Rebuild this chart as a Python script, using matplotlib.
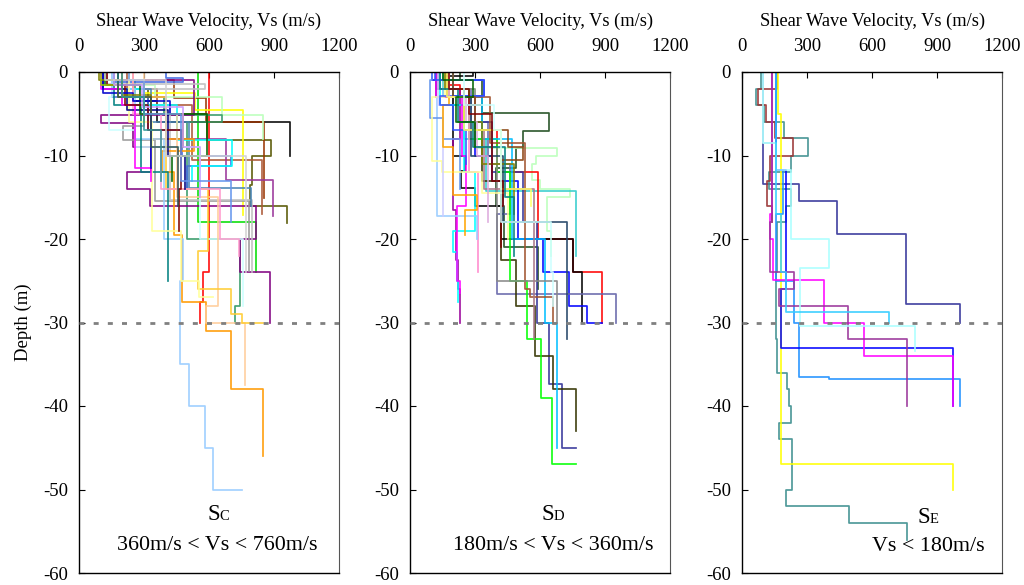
import matplotlib
matplotlib.use("Agg")
import matplotlib.pyplot as plt

plt.rcParams['font.family'] = ['Liberation Serif', 'DejaVu Serif']
plt.rcParams['axes.unicode_minus'] = False

# Site class C profiles: layer velocity (m/s) and layer bottom depth (m)
sc_colors = ['#ff0000', '#00dd00', '#000000', '#555500', '#993300', '#aa5533',
             '#ffff00', '#bbffbb', '#339966', '#800080', '#993399', '#999999',
             '#c0c0c0', '#4169e1', '#4682b4', '#00ffff', '#ccffff', '#ff9900',
             '#99ccff', '#ffcc99', '#ffcc33', '#008080', '#ffff99', '#ff99cc',
             '#000080', '#006400', '#ff00ff', '#800000', '#0000cd', '#808000',
             '#99cc00', '#cc99ff', '#2f4f4f', '#6495ed', '#d3d3d3', '#339999']
sc_vs = [
    [600, 570, 560],
    [549, 817],
    [150, 250, 361, 972],
    [180, 320, 592, 887, 800, 790, 961],
    [150, 440, 585, 854],
    [220, 360, 520, 845],
    [120, 300, 535, 758],
    [200, 350, 661, 850],
    [130, 260, 392, 661, 500, 744, 721],
    [150, 531, 100, 250, 330, 220, 328, 815, 743, 881],
    [200, 400, 680, 897],
    [180, 300, 205, 351, 785],
    [130, 581, 200, 420, 800],
    [400, 481, 150, 320, 477, 703, 500],
    [200, 330, 508, 795],
    [180, 300, 450, 707, 520],
    [150, 138, 260, 560, 757],
    [200, 330, 530, 385, 440, 474, 586, 701, 850],
    [150, 260, 390, 480, 466, 506, 581, 620, 751],
    [300, 450, 640, 586, 766],
    [250, 400, 596, 548, 701, 751, 850],
    [160, 285, 410, 412],
    [230, 338, 470, 555, 620],
    [250, 380, 650, 740],
    [110, 220, 410, 490],
    [120, 280, 589, 430],
    [100, 200, 258, 330],
    [130, 210, 320, 470, 460],
    [110, 250, 420, 330],
    [90, 200, 330, 480],
    [100, 180, 300],
    [160, 290, 480, 560],
    [180, 330, 455],
    [230, 300, 470, 700],
    [120, 400, 770],
    [200, 300, 380],
]
sc_depth = [
    [24, 27.5, 30],
    [18, 24],
    [1.5, 3.5, 6, 10],
    [2, 5, 8.1, 10, 13.5, 16.1, 18.1],
    [1, 3.1, 6, 15.1],
    [2, 4, 10.5, 17],
    [1, 2.5, 4.6, 17.1],
    [1.5, 3, 5.1, 8],
    [1, 3, 5.1, 6, 20, 28, 30],
    [1, 5.1, 6.1, 9, 12, 14, 16.1, 20, 24, 30],
    [3, 8, 12.9, 17.2],
    [2, 6.5, 8.1, 15.5, 23.8],
    [1.4, 2, 4, 15.3, 24],
    [0.7, 1.2, 3, 7, 10, 11.3, 14],
    [2, 6, 13.9, 16.1],
    [2, 4, 8.2, 11.3, 13],
    [3, 7, 9, 20, 28],
    [3, 8, 9.5, 12, 19.5, 27.5, 31, 38, 46],
    [2, 8, 20, 25, 35, 40, 45, 50, 50],
    [5, 15, 28, 30, 37.5],
    [3, 14, 21.4, 26, 29, 30, 30],
    [4, 12, 16, 25],
    [6, 19, 25, 27, 27],
    [5, 14, 20, 22],
    [2, 4.5, 10, 14],
    [1.5, 5, 10, 13],
    [2, 4, 11.5, 13],
    [1.5, 4, 7, 14, 19],
    [2.5, 3.5, 5, 11.5],
    [1, 2.8, 5, 9],
    [1.5, 3, 6],
    [1.5, 4.2, 9, 15],
    [3, 9, 16],
    [1, 5, 13, 18],
    [1, 10, 24],
    [3, 7, 13],
]

# Site class D profiles
sd_colors = ['#1e4d1e', '#bbffbb', '#33cccc', '#ff0000', '#000000', '#0000ff',
             '#6666aa', '#333399', '#333300', '#00ff00', '#00bfff', '#a0522d',
             '#888888', '#224466', '#aa7788', '#990099', '#00ffff', '#ff00ff',
             '#ff88cc', '#99ccff', '#6495ed', '#ffff99', '#ccccff', '#ffa500',
             '#3355ff', '#8b4513', '#808000', '#ddaadd', '#ffff66', '#008080',
             '#800000', '#006400', '#ccffff']
sd_vs = [
    [230, 330, 642, 522, 489, 397, 434, 591],
    [200, 300, 677, 582, 561, 600, 738, 630, 650],
    [150, 250, 350, 765],
    [180, 230, 300, 400, 591, 753, 885],
    [290, 150, 200, 254, 234, 300, 420, 751, 794],
    [100, 341, 200, 300, 380, 500, 615, 734, 817, 885],
    [180, 280, 360, 460, 400, 949],
    [120, 250, 380, 520, 585, 642, 702, 765],
    [200, 330, 420, 489, 577, 660, 765],
    [150, 270, 400, 461, 538, 605, 656, 765],
    [200, 330, 470, 623, 677],
    [170, 370, 531, 554, 660],
    [160, 300, 400, 677],
    [120, 280, 430, 723],
    [140, 250, 340, 570],
    [130, 230, 200, 212, 222, 231],
    [140, 250, 300, 200, 215, 222],
    [120, 240, 260, 215, 230],
    [180, 270, 315],
    [150, 123, 308],
    [100, 92, 154, 230],
    [160, 100, 146, 330, 450],
    [130, 154, 154],
    [180, 154, 197, 308, 254],
    [115, 341, 140, 200, 260],
    [200, 300, 450, 520, 420],
    [160, 250, 330, 480],
    [180, 260, 310, 360],
    [170, 250, 420, 560],
    [140, 220, 290, 440, 480],
    [180, 270, 380, 430, 420],
    [150, 290, 210, 300],
    [250, 389, 420, 650, 660],
]
sd_depth = [
    [1, 4.9, 7.1, 9.1, 11.5, 16, 21, 26],
    [2, 9.1, 10.1, 11, 12.9, 14, 15, 19, 22],
    [3, 8, 14.3, 22],
    [1.5, 3, 7, 12, 20, 24, 30],
    [0.5, 1, 10, 11.9, 13.9, 16, 20, 24, 30],
    [1, 2.9, 3.9, 10, 13, 20, 24, 28, 30, 30],
    [2, 6, 11, 17, 26.6, 30],
    [2, 6, 12, 18, 30, 37.4, 45, 45],
    [4, 13, 22.5, 28, 34, 38, 43],
    [2, 8, 12, 25, 32, 39, 47, 47],
    [3, 8, 20, 30, 45],
    [3, 8.5, 26, 27, 30],
    [2, 9, 25, 30],
    [3, 10, 18, 32],
    [2, 7, 14, 32],
    [2, 8, 16.5, 22.5, 26, 30],
    [4, 12, 19, 21.5, 25, 27.5],
    [3, 10, 16, 25, 26.5],
    [3, 12, 24],
    [3, 17.2, 20],
    [1, 5.5, 8, 14],
    [3, 10.7, 12, 14.5, 20],
    [4, 10, 17.2],
    [4, 9, 14.7, 16.5, 19.5],
    [1, 2.9, 3.9, 7, 11],
    [3, 7, 9, 10.5, 14],
    [2, 6, 11, 17],
    [3, 6, 10, 18],
    [3, 7, 14, 16],
    [2, 6, 9, 15, 22],
    [2, 5, 13, 16, 21],
    [1, 3, 6, 9],
    [4, 7, 18, 24, 28],
]

# Site class E profiles
se_colors = ['#333399', '#99bbdd', '#3d8f8f', '#993333', '#ffff00', '#1e90ff',
             '#0000ff', '#ff00ff', '#993399', '#aaffff', '#33ccff']
se_vs = [
    [96, 262, 439, 757, 1004],
    [96, 158],
    [86, 65, 103, 196, 306, 224, 124, 224, 204, 161, 158, 161, 208, 219,
     224, 173, 229, 201, 494, 760],
    [160, 75, 110, 150, 235, 131, 114, 140],
    [167, 178, 973],
    [158, 190, 158, 242, 262, 401, 1004],
    [158, 204, 181, 973],
    [140, 127, 142, 377, 564, 973],
    [140, 127, 242, 170, 490, 760],
    [96, 158, 227, 400, 266, 798],
    [158, 180, 201, 680],
]
se_depth = [
    [13.4, 15.4, 19.4, 27.8, 30],
    [8.5, 11.7],
    [2, 4, 6, 7.9, 10, 12, 14, 16, 18, 24, 32, 36, 38, 40, 42, 44, 50, 52,
     54, 56],
    [2, 4, 6, 7.9, 10, 13, 16, 18],
    [5, 47, 50],
    [11.7, 17, 25, 30, 36.5, 36.8, 40],
    [11.7, 26, 33, 40],
    [17, 20, 24.9, 30, 34, 40],
    [18, 24, 26, 28, 32, 40],
    [8.5, 11.7, 20, 23.5, 30.4, 33.4],
    [17, 24, 28.8, 30],
]

panels = [
    (sc_vs, sc_depth, sc_colors, 'C', '360m/s < Vs < 760m/s', (592, -53.7), (176, -57.2)),
    (sd_vs, sd_depth, sd_colors, 'D', '180m/s < Vs < 360m/s', (607, -53.7), (197, -57.2)),
    (se_vs, se_depth, se_colors, 'E', 'Vs < 180m/s', (808, -54.0), (598, -57.4)),
]


def draw_profile(ax, vs, depth, color):
    # step profile: vertical segment per layer, joined by horizontal jumps
    x, y = [], []
    top = 0
    for v, d in zip(vs, depth):
        x += [v, v]
        y += [-top, -d]
        top = d
    ax.plot(x, y, color=color, lw=1.25, alpha=0.9)


fig = plt.figure(figsize=(10.24, 5.85), dpi=100)
lefts = [79, 410, 742]

for i, (vs_list, d_list, colors, sub, rng, s_pos, t_pos) in enumerate(panels):
    ax = fig.add_axes([lefts[i] / 1024, 12 / 585, 260 / 1024, 501 / 585])
    for vs, d, c in zip(vs_list, d_list, colors):
        draw_profile(ax, vs, d, c)
    ax.axhline(-30, color='#808080', lw=2.0, ls=(0, (1.8, 3.3)), zorder=3)

    ax.set_xlim(0, 1200)
    ax.set_ylim(-60, 0)
    ax.set_xticks([0, 300, 600, 900, 1200])
    ax.set_yticks(range(-60, 1, 10))
    ax.xaxis.tick_top()
    ax.xaxis.set_label_position('top')
    ax.set_xlabel('Shear Wave Velocity, Vs (m/s)', fontsize=13.2, labelpad=9)
    ax.tick_params(axis='x', direction='in', length=4, pad=12, labelsize=13.5)
    ax.tick_params(axis='y', direction='in', length=4, pad=8, labelsize=13.5)
    for side in ['top', 'left', 'bottom']:
        ax.spines[side].set_linewidth(1.0)
    ax.spines['right'].set_color('#555555')
    if i == 0:
        ax.set_ylabel('Depth (m)', fontsize=13.5, labelpad=8)

    ax.text(s_pos[0], s_pos[1], 'S', fontsize=16.5, ha='left', va='baseline')
    ax.text(s_pos[0] + 58, s_pos[1], sub, fontsize=10.5, ha='left', va='baseline')
    ax.text(t_pos[0], t_pos[1], rng, fontsize=15.8, ha='left', va='baseline')

fig.savefig('out.png', dpi=100)
